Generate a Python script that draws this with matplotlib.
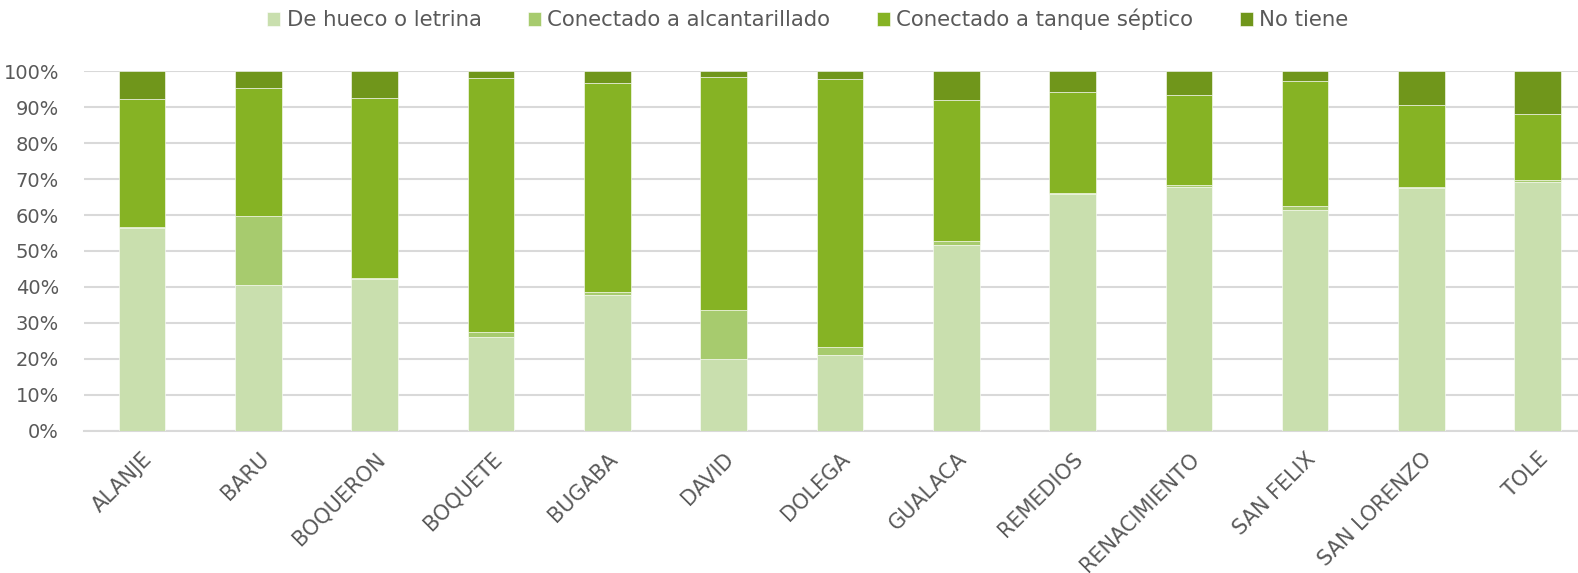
import numpy as np
import matplotlib.pyplot as plt
from matplotlib.ticker import PercentFormatter

plt.rcParams['font.family'] = ['DejaVu Sans']

districts = ["ALANJE", "BARU", "BOQUERON", "BOQUETE", "BUGABA", "DAVID", "DOLEGA",
             "GUALACA", "REMEDIOS", "RENACIMIENTO", "SAN FELIX", "SAN LORENZO", "TOLE"]
series_names = ["De hueco o letrina", "Conectado a alcantarillado",
                "Conectado a tanque séptico", "No tiene"]

letrina = [56.3, 40.5, 42.2, 26.0, 37.8, 20.0, 21.1, 51.7, 65.9, 67.9, 61.4, 67.5, 69.2]
alcantarillado = [0.3, 19.3, 0.2, 1.5, 0.8, 13.6, 2.1, 1.1, 0.2, 0.5, 1.1, 0.2, 0.6]
septico = [35.6, 35.6, 50.1, 70.5, 58.1, 64.8, 74.6, 39.2, 28.1, 25.1, 34.9, 22.9, 18.3]
no_tiene = [7.8, 4.6, 7.5, 2.0, 3.3, 1.6, 2.2, 8.0, 5.8, 6.5, 2.6, 9.4, 11.9]

colors = ["#C9DFAE", "#A7CB6E", "#86B324", "#70961B"]
text_color = "#595959"

fig = plt.figure(figsize=(15.78, 5.73), dpi=100)
# the plot area runs past the right edge, as in the reference
ax = fig.add_axes([84 / 1578, (573 - 430.7) / 573, 13 * 116.3 / 1578, 359.4 / 573])

x = np.arange(len(districts))
bottom = np.zeros(len(districts))
for name, vals, col in zip(series_names, [letrina, alcantarillado, septico, no_tiene], colors):
    ax.bar(x, vals, width=0.4, bottom=bottom, color=col, label=name,
           edgecolor="white", linewidth=0.4, zorder=3)
    bottom += np.array(vals)

ax.set_xlim(-0.5, len(districts) - 0.5)
ax.set_ylim(0, 100)
ax.set_yticks(np.arange(0, 101, 10))
ax.yaxis.set_major_formatter(PercentFormatter(decimals=0))
ax.grid(axis="y", color="#D9D9D9", linewidth=1.5, zorder=0)
for side in ["top", "right", "left"]:
    ax.spines[side].set_visible(False)
ax.spines["bottom"].set_color("#D9D9D9")
ax.spines["bottom"].set_linewidth(1.5)
ax.tick_params(axis="both", length=0, labelcolor=text_color)
ax.tick_params(axis="y", labelsize=14, pad=18)
ax.tick_params(axis="x", labelsize=15, pad=13)

ax.set_xticks(x)
ax.set_xticklabels(districts, rotation=45, ha="right", rotation_mode="anchor")

leg = fig.legend(loc="upper center", bbox_to_anchor=(0.512, 1.018), ncol=4, frameon=False,
                 fontsize=15.3, handlelength=0.6, handleheight=0.6, handletextpad=0.3,
                 columnspacing=2.2)
for t in leg.get_texts():
    t.set_color(text_color)

fig.savefig("out.png", dpi=100)
